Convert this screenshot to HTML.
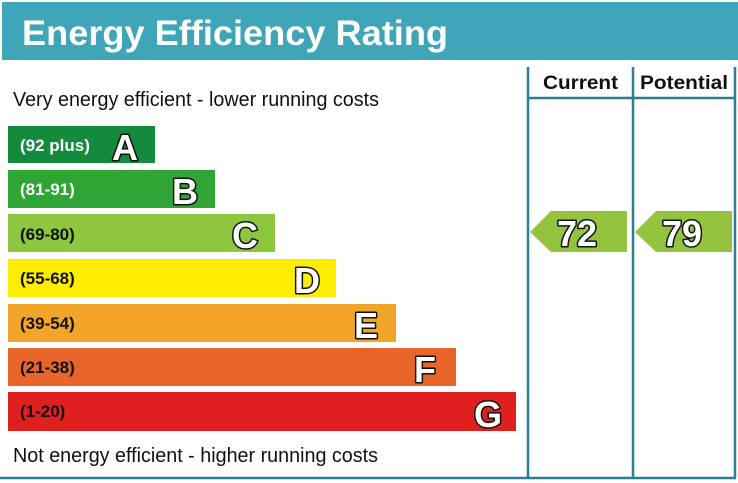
<!DOCTYPE html>
<html><head><meta charset="utf-8"><style>
body{margin:0;background:#fff;}
svg{display:block;font-family:"Liberation Sans",Arial,sans-serif;}
</style></head><body>
<svg width="738" height="483" viewBox="0 0 738 483">
<rect x="2" y="2" width="736" height="58" fill="#3ea6b8"/>
<text x="22" y="45" font-size="35" font-weight="bold" fill="#fff" textLength="426" lengthAdjust="spacingAndGlyphs">Energy Efficiency Rating</text>
<g stroke="#2a7f94" stroke-width="2.5" fill="none">
<line x1="528" y1="67" x2="528" y2="478"/>
<line x1="633" y1="67" x2="633" y2="478"/>
<line x1="735" y1="67" x2="735" y2="478"/>
<line x1="528" y1="98" x2="735" y2="98"/>
<line x1="0" y1="478" x2="736" y2="478"/>
</g>
<text x="543" y="89" font-size="19" font-weight="bold" fill="#111" textLength="75" lengthAdjust="spacingAndGlyphs">Current</text>
<text x="640" y="89" font-size="19" font-weight="bold" fill="#111" textLength="88" lengthAdjust="spacingAndGlyphs">Potential</text>
<text x="13" y="106" font-size="20" fill="#111" textLength="366" lengthAdjust="spacingAndGlyphs">Very energy efficient - lower running costs</text>
<text x="13" y="462" font-size="20" fill="#111" textLength="365" lengthAdjust="spacingAndGlyphs">Not energy efficient - higher running costs</text>
<rect x="8" y="126" width="147" height="37" fill="#138a3c"/>
<rect x="8" y="170" width="207" height="38" fill="#2ea535"/>
<rect x="8" y="214" width="267" height="38" fill="#8dc63f"/>
<rect x="8" y="259" width="328" height="38" fill="#ffed00"/>
<rect x="8" y="304" width="388" height="38" fill="#f3a529"/>
<rect x="8" y="348" width="448" height="38" fill="#e9652a"/>
<rect x="8" y="392" width="508" height="39" fill="#e0201f"/>
<g font-size="17" font-weight="bold">
<text x="20" y="151" fill="#fff">(92 plus)</text>
<text x="20" y="195" fill="#fff">(81-91)</text>
<text x="20" y="240" fill="#111">(69-80)</text>
<text x="20" y="284" fill="#111">(55-68)</text>
<text x="20" y="329" fill="#111">(39-54)</text>
<text x="20" y="373" fill="#111">(21-38)</text>
<text x="20" y="417" fill="#111">(1-20)</text>
</g>
<g font-size="36" font-weight="bold" fill="#fff" stroke="#111" stroke-width="3" paint-order="stroke" stroke-linejoin="round">
<text x="112" y="160">A</text>
<text x="172" y="204">B</text>
<text x="232" y="248">C</text>
<text x="294" y="293">D</text>
<text x="354" y="338">E</text>
<text x="414" y="382">F</text>
<text x="474" y="427">G</text>
</g>
<polygon points="530,232 551,211 627,211 627,252 551,252" fill="#94c43f"/>
<polygon points="635,232 656,211 732,211 732,252 656,252" fill="#94c43f"/>
<g font-size="36" font-weight="bold" fill="#fff" stroke="#111" stroke-width="3" paint-order="stroke" stroke-linejoin="round">
<text x="557" y="246">72</text>
<text x="662" y="246">79</text>
</g>
</svg>
</body></html>
